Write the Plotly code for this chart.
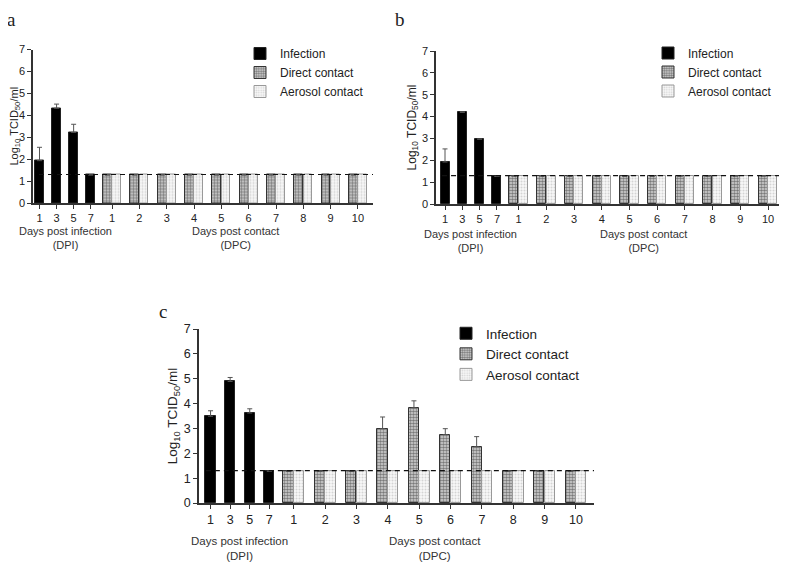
import plotly.graph_objects as go

# ---------------- data ----------------
inf_labels = ["1", "3", "5", "7"]
dpc_labels = ["1", "2", "3", "4", "5", "6", "7", "8", "9", "10"]
series_names = ["Infection", "Direct contact", "Aerosol contact"]
detection_limit = 1.3

a_inf = [1.93, 4.32, 3.22, 1.28]
a_inf_err = [0.61, 0.19, 0.37, 0.0]
a_direct = [1.28, 1.28, 1.28, 1.28, 1.28, 1.28, 1.28, 1.28, 1.28, 1.28]
a_direct_err = [0, 0, 0, 0, 0, 0, 0, 0, 0, 0]
a_aerosol = [1.28, 1.28, 1.28, 1.28, 1.28, 1.28, 1.28, 1.28, 1.28, 1.28]

b_inf = [1.92, 4.19, 2.97, 1.26]
b_inf_err = [0.60, 0.03, 0.0, 0.0]
b_direct = [1.28, 1.28, 1.28, 1.28, 1.28, 1.28, 1.28, 1.28, 1.28, 1.28]
b_direct_err = [0, 0, 0, 0, 0, 0, 0, 0, 0, 0]
b_aerosol = [1.28, 1.28, 1.28, 1.28, 1.28, 1.28, 1.28, 1.28, 1.28, 1.28]

c_inf = [3.49, 4.89, 3.62, 1.28]
c_inf_err = [0.22, 0.16, 0.17, 0.0]
c_direct = [1.28, 1.28, 1.28, 2.99, 3.83, 2.75, 2.26, 1.28, 1.28, 1.28]
c_direct_err = [0, 0, 0, 0.47, 0.28, 0.24, 0.41, 0, 0, 0]
c_aerosol = [1.28, 1.28, 1.28, 1.28, 1.28, 1.28, 1.28, 1.28, 1.28, 1.28]

# ---------------- layout helpers ----------------
inf_pos = [float(i) for i in range(len(inf_labels))]
dpc_pos = [inf_pos[-1] + 1.25 + 1.6 * i for i in range(len(dpc_labels))]
bw = 0.52
off = 0.27

PAGE_OFF = 8                      # default page margin around the figure
W, H = 787 - PAGE_OFF, 564 - PAGE_OFF
FONT = "Liberation Sans, Arial, sans-serif"
AXC = "#333333"

def fx(px):
    return (px - PAGE_OFF) / W

def fy(py):
    return 1 - (py - PAGE_OFF) / H

fig = go.Figure()

panels = [
    dict(key="", inf=a_inf, inf_err=a_inf_err, direct=a_direct, direct_err=a_direct_err, aerosol=a_aerosol,
         legend="legend", xr=[-0.38, 19.53], xd=[33, 373], yd=[203, 49.5], fs=11, tfs=11, afs=11,
         lab_y=-0.23, so=2),
    dict(key="2", inf=b_inf, inf_err=b_inf_err, direct=b_direct, direct_err=b_direct_err, aerosol=b_aerosol,
         legend="legend2", xr=[-0.52, 19.63], xd=[436, 785], yd=[204, 51], fs=11, tfs=12, afs=11,
         lab_y=-0.24, so=3),
    dict(key="3", inf=c_inf, inf_err=c_inf_err, direct=c_direct, direct_err=c_direct_err, aerosol=c_aerosol,
         legend="legend3", xr=[-0.59, 19.57], xd=[199, 594], yd=[503, 329], fs=12.5, tfs=13.5, afs=11.5,
         lab_y=-0.26, so=3),
]

def err(vals):
    return dict(type="data", symmetric=False, array=vals, arrayminus=[0] * len(vals),
                color="#555555", thickness=1, width=2.5)

for p in panels:
    xa = "x" + p["key"]
    ya = "y" + p["key"]
    fig.add_trace(go.Bar(
        x=inf_pos, y=p["inf"], width=bw, name=series_names[0], xaxis=xa, yaxis=ya,
        marker=dict(color="black", line=dict(color="#222222", width=1)),
        error_y=err(p["inf_err"]), legend=p["legend"]))
    fig.add_trace(go.Bar(
        x=[v - off for v in dpc_pos], y=p["direct"], width=bw, name=series_names[1], xaxis=xa, yaxis=ya,
        marker=dict(color="#bdbdbd", line=dict(color="#333333", width=1),
                    pattern=dict(shape=".", fgcolor="#1e1e1e", bgcolor="#d6d6d6", size=3, solidity=0.55)),
        error_y=err(p["direct_err"]), legend=p["legend"]))
    fig.add_trace(go.Bar(
        x=[v + off for v in dpc_pos], y=p["aerosol"], width=bw, name=series_names[2], xaxis=xa, yaxis=ya,
        marker=dict(color="#f0f0f0", line=dict(color="#999999", width=1),
                    pattern=dict(shape=".", fgcolor="#b0b0b0", bgcolor="#f8f8f8", size=3, solidity=0.35)),
        legend=p["legend"]))

    # dashed detection limit
    fig.add_shape(type="line", xref=xa, yref=ya, x0=p["xr"][0] + 0.35, x1=p["xr"][1],
                  y0=detection_limit, y1=detection_limit,
                  line=dict(color="#111111", width=1.2, dash="5px,4px"), layer="above")

    xdom = [fx(p["xd"][0]), fx(p["xd"][1])]
    ydom = [fy(p["yd"][0]), fy(p["yd"][1])]
    fig.update_layout(**{
        "xaxis" + p["key"]: dict(domain=xdom, range=p["xr"], anchor=ya, automargin=False,
                                 tickmode="array", tickvals=inf_pos + dpc_pos,
                                 ticktext=inf_labels + dpc_labels,
                                 showline=True, linecolor=AXC, linewidth=1.5,
                                 ticks="outside", ticklen=4, tickcolor=AXC, tickwidth=1.2,
                                 showgrid=False, zeroline=False,
                                 tickfont=dict(family=FONT, size=p["fs"], color="#222222")),
        "yaxis" + p["key"]: dict(domain=ydom, range=[0, 7], anchor=xa, automargin=False,
                                 tickmode="array", tickvals=list(range(8)),
                                 showline=True, linecolor=AXC, linewidth=1.5,
                                 ticks="outside", ticklen=4, tickcolor=AXC, tickwidth=1.2,
                                 showgrid=False, zeroline=False,
                                 tickfont=dict(family=FONT, size=p["fs"], color="#222222"),
                                 title=dict(text="Log<sub>10</sub> TCID<sub>50</sub>/ml",
                                            font=dict(family=FONT, size=p["tfs"], color="#222222"),
                                            standoff=p["so"])),
    })

    inf_mid = (inf_pos[0] + inf_pos[-1]) / 2
    dpc_mid = (dpc_pos[0] + dpc_pos[-1]) / 2
    for mid, txt in [(inf_mid, "Days post infection<br>(DPI)"), (dpc_mid, "Days post contact<br>(DPC)")]:
        fig.add_annotation(x=mid, xref=xa, y=p["lab_y"], yref=ya + " domain",
                           text=txt, showarrow=False, yanchor="middle",
                           font=dict(family=FONT, size=p["afs"], color="#333333"))

# legends
leg_common = dict(xanchor="left", yanchor="top", bgcolor="rgba(0,0,0,0)", borderwidth=0,
                  traceorder="normal", itemclick=False, tracegroupgap=0)
fig.update_layout(
    legend=dict(x=fx(240), y=fy(39), font=dict(family=FONT, size=12, color="#222222"), **leg_common),
    legend2=dict(x=fx(648), y=fy(38.5), font=dict(family=FONT, size=12, color="#222222"), **leg_common),
    legend3=dict(x=fx(446), y=fy(318), font=dict(family=FONT, size=13.5, color="#222222"), **leg_common),
)

# panel letters (top of figure area)
for letter, lx, ly in [("a", 12, 8), ("b", 400, 8), ("c", 163, 300)]:
    fig.add_annotation(x=fx(lx), y=fy(ly), xref="paper", yref="paper", text=letter,
                       xanchor="center", yanchor="top", showarrow=False, borderpad=0,
                       font=dict(family="Liberation Serif, Times New Roman, serif",
                                 size=19, color="#222222"))

fig.update_layout(
    width=W, height=H, barmode="overlay", bargap=0,
    margin=dict(l=0, r=0, t=0, b=0, autoexpand=False),
    paper_bgcolor="white", plot_bgcolor="white",
    font=dict(family=FONT),
)

fig.write_html("out.html")
